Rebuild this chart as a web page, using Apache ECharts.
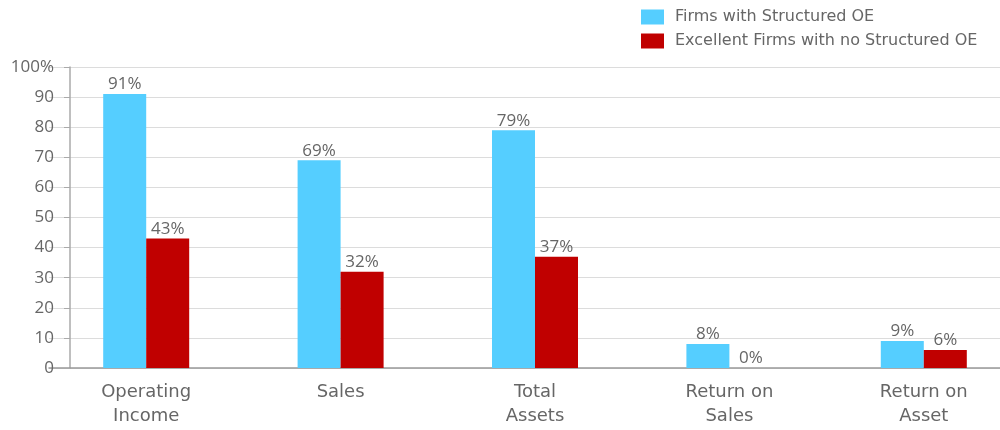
<!DOCTYPE html>
<html><head><meta charset="utf-8">
<script src="https://cdn.jsdelivr.net/npm/echarts@6/dist/echarts.min.js"></script>
<style>html,body{margin:0;padding:0;background:#fff;overflow:hidden}#c{width:1030px;height:430px}</style>
</head><body><div id="c"></div>
<script>
const categories = ['Operating\nIncome', 'Sales', 'Total\nAssets', 'Return on\nSales', 'Return on\nAsset'];
const seriesNames = ['Firms with Structured OE', 'Excellent Firms with no Structured OE'];
const structured = [91, 69, 79, 8, 9];
const noStructured = [43, 32, 37, 0, 6];
const yTicks = [0, 10, 20, 30, 40, 50, 60, 70, 80, 90, 100];

const font = '"Open Sans", "DejaVu Sans", sans-serif';
const wide = '"DejaVu Sans", sans-serif';
const chart = echarts.init(document.getElementById('c'));
const labelStyle = {show: true, position: 'top', distance: 1, formatter: p => p.value + '%', color: '#666', fontSize: 17, fontFamily: font};
chart.setOption({
  animation: false,
  legend: {
    orient: 'vertical', left: 636, top: 4, itemWidth: 23, itemHeight: 15, itemGap: 8,
    icon: 'rect',
    textStyle: {color: '#666', fontSize: 16, fontFamily: wide, padding: [0, 0, 0, 6]},
    data: seriesNames
  },
  grid: {left: 49, right: 9, top: 67, bottom: 62},
  xAxis: {
    type: 'category', data: categories,
    axisLine: {lineStyle: {color: '#999', width: 1.5}},
    axisTick: {show: false},
    axisLabel: {color: '#666', fontSize: 18, fontFamily: wide, margin: 12, lineHeight: 24, interval: 0}
  },
  yAxis: {
    type: 'value', min: 0, max: 100, interval: 10, offset: -21,
    axisLine: {show: true, lineStyle: {color: '#aaa', width: 1.5}},
    axisTick: {show: true, length: 6, lineStyle: {color: '#aaa'}},
    splitLine: {lineStyle: {color: '#dcdcdc', width: 1}},
    axisLabel: {color: '#666', fontSize: 17, fontFamily: font, margin: 16,
      formatter: v => (yTicks.includes(v) ? (v === 100 ? '100%' : String(v)) : '')}
  },
  series: [
    {name: seriesNames[0], type: 'bar', data: structured, barWidth: 43, barGap: '0%',
     itemStyle: {color: '#55CEFF'}, label: labelStyle},
    {name: seriesNames[1], type: 'bar', data: noStructured, barWidth: 43,
     itemStyle: {color: '#C00000'}, label: labelStyle}
  ]
});
</script></body></html>
